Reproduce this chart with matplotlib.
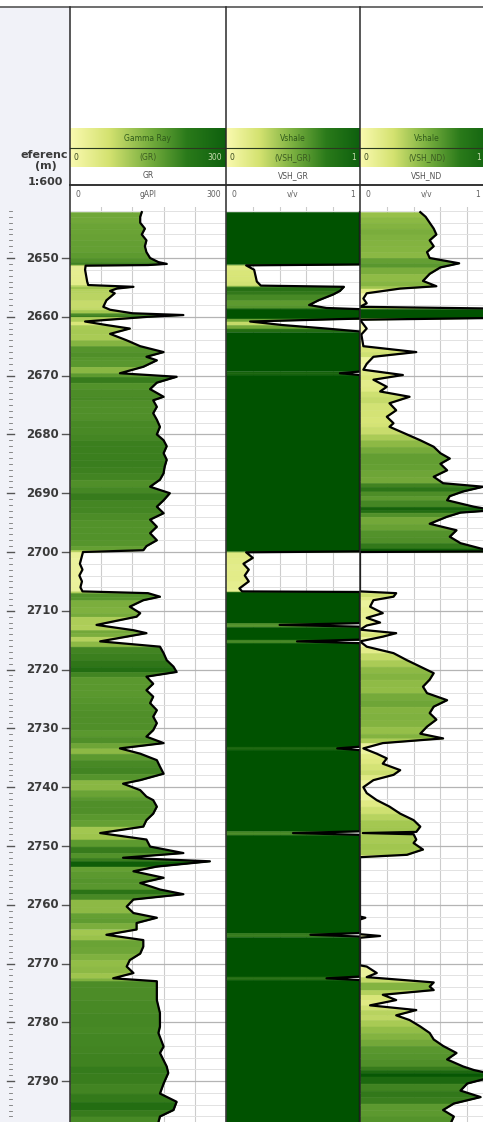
import numpy as np
import matplotlib
matplotlib.use("Agg")
import matplotlib.pyplot as plt
from matplotlib.colors import LinearSegmentedColormap, Normalize

# ---- data (depth in m) ----
gr_depth = [2642.2, 2643, 2644, 2645, 2646, 2647, 2648, 2649, 2650, 2650.7, 2651.0, 2651.2,
            2651.3, 2652, 2653, 2654, 2654.6, 2654.9, 2655.2, 2655.6, 2656, 2657.2, 2658.3,
            2658.8, 2659.4, 2659.7, 2660.0, 2660.8, 2661.4, 2662, 2662.9, 2664, 2665, 2666,
            2666.8, 2667.4, 2668.5, 2669.6, 2670.2, 2671.2, 2672.3, 2673.6, 2674.2, 2675.3,
            2676.4, 2677.5, 2678.7, 2680, 2681, 2682, 2683.2, 2684.3, 2685.5, 2686.6, 2687.7,
            2688.9, 2690, 2691.2, 2692.3, 2693.4, 2694.5, 2695.7, 2696.8, 2698, 2699, 2699.7,
            2700.0, 2701, 2702, 2703, 2704, 2705, 2706, 2706.7, 2707.0, 2707.6, 2708.2, 2709.3,
            2710.4, 2711, 2712.4, 2713.3, 2713.8, 2714.4, 2715.2, 2716.1, 2717.2, 2718.4,
            2719.5, 2720.4, 2721.2, 2722.4, 2723.5, 2724.6, 2725.7, 2726.9, 2728, 2729.1,
            2730.3, 2731.4, 2732.5, 2733.4, 2734.3, 2735.4, 2736.5, 2737.7, 2738.8, 2739.4,
            2740.5, 2741.6, 2742.2, 2743.3, 2744.5, 2745.6, 2746.7, 2747.8, 2748.9, 2750.1,
            2751.2, 2752, 2752.6, 2753.5, 2754.3, 2755.4, 2756.3, 2757.4, 2758.2, 2759.1,
            2760.3, 2761.4, 2762.2, 2763.1, 2764.2, 2765.1, 2766, 2767.1, 2768.3, 2769.4,
            2770.5, 2771.6, 2772.5, 2773, 2773.9, 2776.2, 2778.4, 2780.7, 2781.8, 2784.1,
            2785.2, 2787.5, 2788.6, 2790.4, 2792.1, 2793.5, 2794.9, 2796, 2797]
gr_vals = [138, 135, 135, 144, 138, 147, 144, 147, 154, 170, 186, 150,
           30, 29, 31, 33, 35, 122, 90, 77, 86, 70, 64,
           77, 120, 218, 150, 29, 70, 115, 77, 109, 135, 180,
           147, 167, 141, 96, 205, 167, 154, 180, 160, 167,
           160, 167, 173, 167, 180, 186, 180, 186, 182, 180, 173,
           154, 192, 180, 167, 180, 154, 167, 154, 167, 147, 141,
           25, 22, 19, 24, 18, 23, 20, 24, 150, 173, 141, 115,
           135, 128, 51, 122, 147, 109, 58, 173, 180, 186,
           199, 205, 147, 160, 147, 160, 154, 167, 160, 167,
           160, 147, 180, 96, 135, 167, 173, 180, 135, 102,
           135, 147, 160, 167, 160, 147, 141, 58, 147, 154,
           218, 102, 269, 167, 122, 180, 135, 173, 218, 122,
           109, 122, 167, 128, 128, 70, 141, 141, 135, 115,
           109, 122, 83, 167, 167, 167, 173, 173, 170, 180,
           173, 186, 189, 180, 173, 205, 199, 173, 170]

vshgr_depth = [2642.2, 2651.1, 2651.25, 2652, 2653, 2654, 2654.7, 2654.9, 2655.6, 2656.2,
               2657.2, 2658.0, 2658.5, 2658.7, 2660.3, 2660.8, 2661.4, 2662.0, 2662.5,
               2669.3, 2669.6, 2669.9, 2699.9, 2700.05, 2701, 2702, 2703, 2704, 2705,
               2706.2, 2706.7, 2706.8, 2712.1, 2712.4, 2712.7, 2714.9, 2715.2, 2715.5,
               2733.1, 2733.4, 2733.7, 2747.5, 2747.8, 2748.1, 2764.8, 2765.1, 2765.4,
               2772.2, 2772.5, 2772.8, 2797]
vshgr_vals = [1.0, 1.0, 0.15, 0.21, 0.22, 0.23, 0.26, 0.88, 0.85, 0.8,
              0.69, 0.62, 0.75, 1.0, 1.0, 0.18, 0.42, 0.75, 1.0,
              1.0, 0.85, 1.0, 1.0, 0.15, 0.2, 0.13, 0.17, 0.14, 0.17,
              0.1, 0.12, 1.0, 1.0, 0.40, 1.0, 1.0, 0.53, 1.0,
              1.0, 0.83, 1.0, 1.0, 0.5, 1.0, 1.0, 0.63, 1.0,
              1.0, 0.75, 1.0, 1.0]

vshnd_depth = [2642.2, 2643, 2644, 2645, 2646, 2647, 2648, 2649, 2650, 2650.9, 2651.6,
               2652.7, 2653.9, 2654.8, 2655.2, 2656, 2656.9, 2657.7, 2658.3, 2658.6, 2660.2,
               2660.5, 2662, 2663, 2665, 2666, 2666.8, 2668, 2669, 2669.9, 2670.7, 2671.9,
               2672.7, 2673.6, 2674.7, 2675.9, 2677, 2678.1, 2678.7, 2680, 2681, 2682.1,
               2683.2, 2684.1, 2685, 2686.1, 2687.2, 2688.3, 2688.9, 2689.7, 2690.5, 2691.2,
               2692.3, 2692.9, 2693.3, 2694, 2695.2, 2696.3, 2697.4, 2698.5, 2699.4, 2699.9,
               2700.0, 2706.7, 2707.0, 2707.6, 2708.2, 2709.3, 2710.4, 2711.2, 2712.0, 2712.5,
               2713.2, 2713.8, 2714.4, 2715.2, 2716.1, 2717.2, 2718.4, 2719.5, 2720.6, 2721.7,
               2722.9, 2724, 2725.2, 2726.3, 2727.4, 2728.5, 2729.7, 2730.9, 2731.7, 2732.5,
               2733.4, 2734.3, 2735.1, 2736, 2737.1, 2737.9, 2738.8, 2740, 2741, 2742.2,
               2743.3, 2744.5, 2745.6, 2746.7, 2747.6, 2747.8, 2748.0, 2748.9, 2749.5, 2750.6,
               2751.5, 2751.9, 2762, 2762.2, 2762.5, 2765, 2765.3, 2765.6, 2770.3, 2770.5,
               2771.6, 2772.3, 2773.2, 2773.9, 2774.5, 2775.3, 2776.2, 2777.1, 2777.9, 2778.8,
               2779.6, 2780.7, 2781.8, 2782.9, 2784, 2785.2, 2786.3, 2787.5, 2788.1, 2788.6,
               2789.2, 2790.4, 2791.6, 2792.7, 2793.8, 2794.9, 2796, 2797]
vshnd_vals = [0.45, 0.49, 0.52, 0.55, 0.57, 0.52, 0.55, 0.50, 0.52, 0.74, 0.6,
              0.52, 0.47, 0.57, 0.30, 0.05, 0.025, 0.05, 0.0, 1.0, 1.0,
              0.0, 0.05, 0.01, 0.025, 0.42, 0.1, 0.05, 0.025, 0.32, 0.1, 0.2,
              0.15, 0.37, 0.22, 0.27, 0.2, 0.25, 0.22, 0.35, 0.45, 0.55,
              0.6, 0.67, 0.6, 0.65, 0.55, 0.62, 0.92, 0.77, 0.67, 0.65,
              0.85, 1.0, 0.75, 0.65, 0.52, 0.72, 0.67, 0.75, 0.9, 1.0,
              0.0, 0.0, 0.27, 0.25, 0.1, 0.075, 0.17, 0.05, 0.15, 0.05,
              0.0, 0.27, 0.17, 0.0, 0.05, 0.25, 0.35, 0.45, 0.55, 0.52,
              0.47, 0.5, 0.65, 0.55, 0.52, 0.57, 0.5, 0.45, 0.62, 0.17,
              0.025, 0.125, 0.2, 0.17, 0.3, 0.25, 0.1, 0.025, 0.05, 0.125,
              0.22, 0.3, 0.4, 0.45, 0.42, 0.02, 0.4, 0.42, 0.4, 0.47,
              0.35, 0.0, 0.0, 0.04, 0.0, 0.0, 0.15, 0.0, 0.0, 0.05,
              0.125, 0.05, 0.55, 0.52, 0.55, 0.17, 0.27, 0.075, 0.42, 0.27,
              0.37, 0.45, 0.52, 0.55, 0.62, 0.72, 0.65, 0.77, 0.85, 0.95,
              1.0, 0.8, 0.75, 0.9, 0.7, 0.62, 0.7, 0.68]

depth_ticks = [2650, 2660, 2670, 2680, 2690, 2700, 2710, 2720, 2730, 2740,
               2750, 2760, 2770, 2780, 2790]

# ---- layout (pixels) ----
W, H = 483, 1122
fig = plt.figure(figsize=(W / 100, H / 100), dpi=100)

def px_axes(x0, y0, x1, y1, z=1):
    return fig.add_axes([x0 / W, 1 - y1 / H, (x1 - x0) / W, (y1 - y0) / H], zorder=z)

top_d = 2650 - (258 - 207) / 5.88
bot_d = 2650 + (1122 - 258) / 5.88

shade = LinearSegmentedColormap.from_list(
    "shale", [(0.0, "#f6f9b4"), (0.2, "#dde87c"), (0.45, "#9dc44c"),
              (0.65, "#5e9b30"), (0.8, "#3a7e1e"), (1.0, "#005200")])

# background for the depth column
bg = px_axes(0, 0, W, H, z=0)
bg.set_xlim(0, W)
bg.set_ylim(H, 0)
bg.axis("off")
bg.add_patch(plt.Rectangle((0, 7), 70, H, color="#f1f2f8", lw=0))

# depth column
dax = px_axes(0, 207, 70, 1122, z=1)
dax.set_xlim(0, 70)
dax.set_ylim(bot_d, top_d)
dax.axis("off")
for d in np.arange(2642, 2797, 1.0):
    dax.plot([9, 12], [d, d], color="#777777", lw=0.6)
for d in depth_ticks:
    dax.plot([7, 14], [d, d], color="#555555", lw=1.0)
    dax.plot([62, 70], [d, d], color="#555555", lw=1.0)
    dax.text(59, d, str(d), ha="right", va="center", fontsize=8.5,
             fontweight="bold", color="#3a3a3a")


def draw_track(x0, x1, depth, vals, vmax, norm_max):
    ax = px_axes(x0, 207, x1, 1122, z=1)
    ax.set_xlim(0, vmax)
    ax.set_ylim(bot_d, top_d)
    ax.axis("off")
    for f in [0.2, 0.4, 0.6, 0.8]:
        ax.axvline(f * vmax, color="#cccccc", lw=0.8, zorder=0)
    for d in np.arange(2642, 2798, 2):
        major = d % 10 == 0
        ax.axhline(d, color="#b4b4b4" if major else "#e2e2e2",
                   lw=0.9 if major else 0.7, zorder=0)
    v = np.clip(np.array(vals, dtype=float), 0, vmax)
    norm = Normalize(0, norm_max)
    for i in range(len(depth) - 1):
        c = shade(norm(0.5 * (vals[i] + vals[i + 1])))
        ax.fill_betweenx([depth[i], depth[i + 1]], 0, [v[i], v[i + 1]],
                         color=c, lw=0.4, zorder=1)
    ax.plot(v, depth, color="black", lw=1.6, zorder=2)
    return ax

draw_track(70, 226, gr_depth, gr_vals, 300, 230)
draw_track(226, 360, vshgr_depth, vshgr_vals, 1.0, 1.0)
draw_track(360, 494, vshnd_depth, vshnd_vals, 1.0, 1.0)

# header and frame lines on top
ov = px_axes(0, 0, W, H, z=5)
ov.set_xlim(0, W)
ov.set_ylim(H, 0)
ov.axis("off")
ov.patch.set_alpha(0)

grad = np.linspace(0, 1, 256).reshape(1, -1)
head_cmap = LinearSegmentedColormap.from_list(
    "head", ["#fafab0", "#d4e270", "#7ab040", "#2a7a1a", "#0e600e"])
tracks = [(70, 226, "Gamma Ray", "(GR)", "GR", "0", "300", "gAPI"),
          (226, 360, "Vshale", "(VSH_GR)", "VSH_GR", "0", "1", "v/v"),
          (360, 494, "Vshale", "(VSH_ND)", "VSH_ND", "0", "1", "v/v")]
for x0, x1, title, curve, name, lo, hi, unit in tracks:
    xr = min(x1, 485)
    ov.add_patch(plt.Rectangle((x0, 7), x1 - x0, 120, color="white", lw=0))
    ov.imshow(grad, cmap=head_cmap, extent=(x0, x1, 148, 128), aspect="auto", zorder=1)
    ov.imshow(grad, cmap=head_cmap, extent=(x0, x1, 167, 148), aspect="auto", zorder=1)
    ov.plot([x0, x1], [148, 148], color="#2a3a20", lw=0.8, zorder=2)
    ov.add_patch(plt.Rectangle((x0, 167), x1 - x0, 37, color="white", lw=0, zorder=1))
    xm = (x0 + x1) / 2
    ov.text(xm, 138, title, ha="center", va="center", fontsize=5.5, color="#2f5a1a", zorder=3)
    ov.text(xm, 157.5, curve, ha="center", va="center", fontsize=5.5, color="#3a5a20", zorder=3)
    ov.text(x0 + 4, 157.5, lo, ha="left", va="center", fontsize=5.5, color="#3a4a20", zorder=3)
    ov.text(xr - 4, 157.5, hi, ha="right", va="center", fontsize=5.5, color="#c8dcb0", zorder=3)
    ov.text(xm, 175.5, name, ha="center", va="center", fontsize=5.5, color="#505050", zorder=3)
    ov.text(xm, 194, unit, ha="center", va="center", fontsize=5.5, color="#606060", zorder=3)
    ov.text(x0 + 5, 194, lo, ha="left", va="center", fontsize=5.5, color="#606060", zorder=3)
    ov.text(xr - 5, 194, hi, ha="right", va="center", fontsize=5.5, color="#606060", zorder=3)

ov.plot([0, W], [7, 7], color="#555555", lw=1.2, zorder=4)
ov.plot([70, W], [184.5, 184.5], color="#333333", lw=1.4, zorder=4)
for x in [70, 226, 360]:
    ov.plot([x, x], [7, H], color="#2a2a2a", lw=1.1, zorder=4)

ov.text(68, 155, "eferenc", ha="right", va="center", fontsize=8, fontweight="bold", color="#3a3a3a")
ov.text(46, 166, "(m)", ha="center", va="center", fontsize=8, fontweight="bold", color="#3a3a3a")
ov.text(45, 182, "1:600", ha="center", va="center", fontsize=8, fontweight="bold", color="#3a3a3a")

fig.savefig("out.png", dpi=100)
